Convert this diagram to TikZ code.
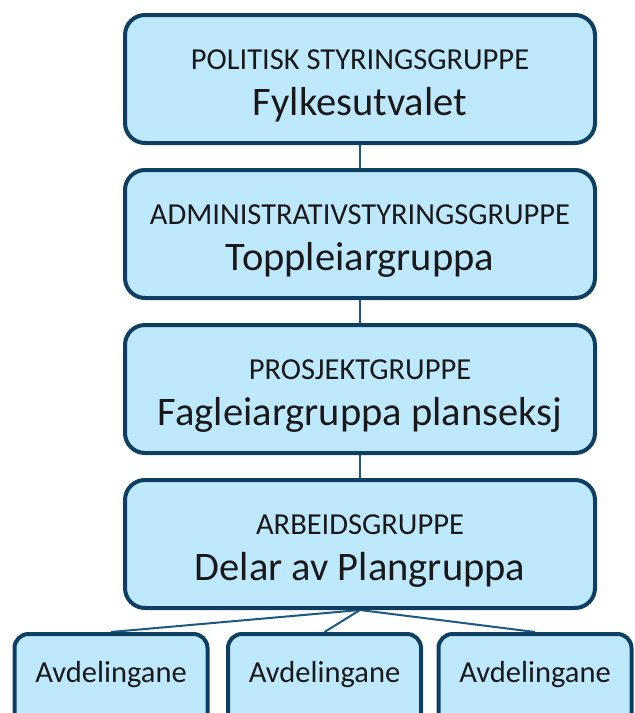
\documentclass[tikz,border=0pt]{standalone}
\usepackage{fontspec}
\setmainfont{Carlito}
\usetikzlibrary{positioning,backgrounds}
\definecolor{boxfill}{RGB}{190,232,252}
\definecolor{boxline}{RGB}{14,62,96}
\definecolor{linkline}{RGB}{28,88,130}
\tikzset{groupbox/.style={draw=boxline, fill=boxfill, line width=4pt, rounded corners=20pt,
            minimum width=470pt, minimum height=128pt, inner sep=0pt},
         deptbox/.style={draw=boxline, fill=boxfill, line width=4pt, rounded corners=14pt,
            minimum width=193pt, minimum height=100pt, inner sep=0pt},
         role/.style={anchor=base, font=\fontsize{30.5}{30.5}\selectfont, text=black!90},
         team/.style={anchor=base, font=\fontsize{40.5}{40.5}\selectfont, text=black!90},
         dept/.style={anchor=base, font=\fontsize{30.5}{30.5}\selectfont, text=black!90},
         link/.style={draw=linkline, line width=2pt}
}

\begin{document}
\begin{tikzpicture}[x=1pt,y=1pt]
                \clip (0,0) rectangle (635,-713);
                \useasboundingbox (0,0) rectangle (635,-713);

                % Styring
                \node[groupbox] (politisk) at (360,-79) {};
                \node[groupbox, below=23pt of politisk] (admin) {};
                \node[groupbox, below=23pt of admin] (prosjekt) {};
                \node[groupbox, below=23pt of prosjekt] (arbeid) {};

                % Avdelingar (nedste rad, kutta)
                \node[deptbox] (avd1) at (111,-684) {};
                \node[deptbox] (avd2) at (324.5,-684) {};
                \node[deptbox] (avd3) at (535,-684) {};

                % Tekst
                \node[role] (politiskrole) at ([yshift=10pt]politisk.center) {POLITISK STYRINGSGRUPPE};
                \node[team] (politiskteam) at ([yshift=-36pt]politisk.center) {Fylkesutvalet};
                \node[role] (adminrole) at ([yshift=10pt]admin.center) {ADMINISTRATIVSTYRINGSGRUPPE};
                \node[team] (adminteam) at ([yshift=-36pt]admin.center) {Toppleiargruppa};
                \node[role] (prosjektrole) at ([yshift=10pt]prosjekt.center) {PROSJEKTGRUPPE};
                \node[team] (prosjektteam) at ([yshift=-36pt]prosjekt.center) {Fagleiargruppa planseksj};
                \node[role] (arbeidrole) at ([yshift=10pt]arbeid.center) {ARBEIDSGRUPPE};
                \node[team] (arbeidteam) at ([yshift=-36pt]arbeid.center) {Delar av Plangruppa};

                \node[dept] (avd1text) at ([yshift=-50pt]avd1.north) {Avdelingane};
                \node[dept] (avd2text) at ([yshift=-50pt]avd2.north) {Avdelingane};
                \node[dept] (avd3text) at ([yshift=-50pt]avd3.north) {Avdelingane};

                % Linjer
                \begin{scope}[on background layer]
                \draw[link] (politisk.south) -- (admin.north);
                \draw[link] (admin.south) -- (prosjekt.north);
                \draw[link] (prosjekt.south) -- (arbeid.north);
                \draw[link] (arbeid.south) -- (avd1.north);
                \draw[link] (arbeid.south) -- (avd2.north);
                \draw[link] (arbeid.south) -- (avd3.north);
                \end{scope}
\end{tikzpicture}
\end{document}
